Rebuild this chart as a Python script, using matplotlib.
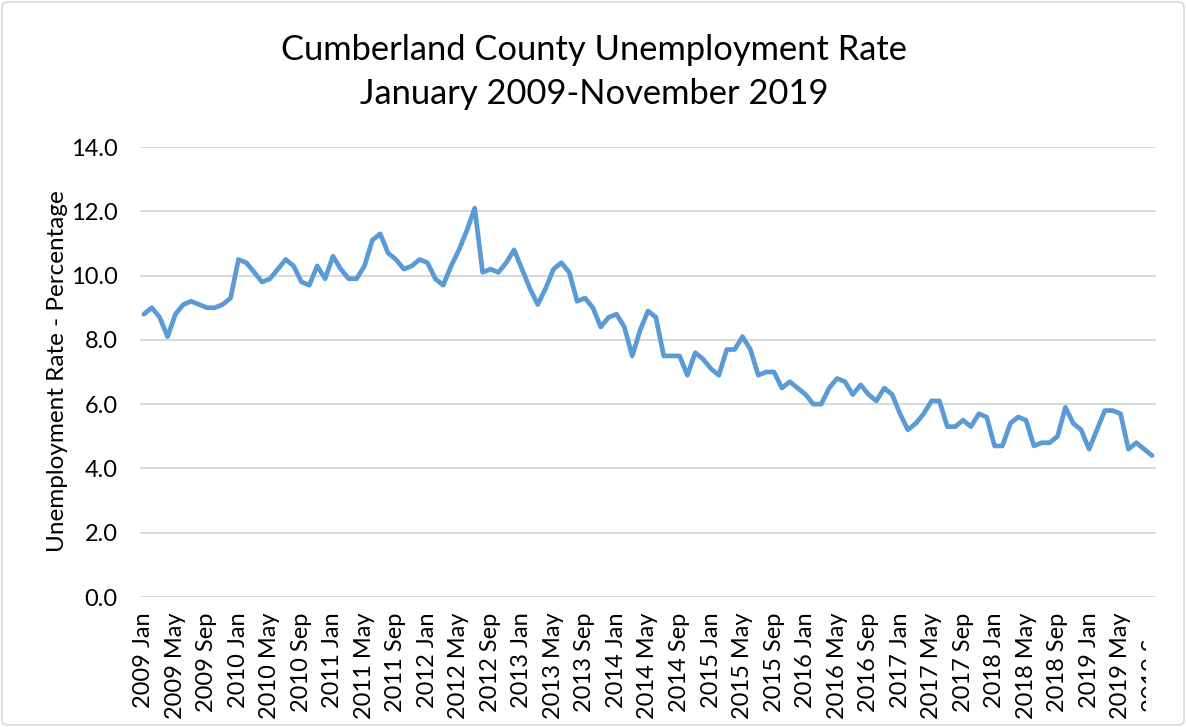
import matplotlib
matplotlib.use("Agg")
import matplotlib.pyplot as plt
from matplotlib.patches import FancyBboxPatch
from matplotlib.transforms import Bbox, IdentityTransform, TransformedBbox

plt.rcParams['font.family'] = ['Lato', 'DejaVu Sans']

title_line1 = "Cumberland County Unemployment Rate"
title_line2 = "January 2009-November 2019"
y_label = "Unemployment Rate - Percentage"
month_names = ["Jan", "Feb", "Mar", "Apr", "May", "Jun",
               "Jul", "Aug", "Sep", "Oct", "Nov", "Dec"]
start_year = 2009
rates = [
    8.8, 9.0, 8.7, 8.1, 8.8, 9.1, 9.2, 9.1, 9.0, 9.0, 9.1, 9.3,          # 2009
    10.5, 10.4, 10.1, 9.8, 9.9, 10.2, 10.5, 10.3, 9.8, 9.7, 10.3, 9.9,   # 2010
    10.6, 10.2, 9.9, 9.9, 10.3, 11.1, 11.3, 10.7, 10.5, 10.2, 10.3, 10.5,  # 2011
    10.4, 9.9, 9.7, 10.3, 10.8, 11.4, 12.1, 10.1, 10.2, 10.1, 10.4, 10.8,  # 2012
    10.2, 9.6, 9.1, 9.6, 10.2, 10.4, 10.1, 9.2, 9.3, 9.0, 8.4, 8.7,      # 2013
    8.8, 8.4, 7.5, 8.3, 8.9, 8.7, 7.5, 7.5, 7.5, 6.9, 7.6, 7.4,          # 2014
    7.1, 6.9, 7.7, 7.7, 8.1, 7.7, 6.9, 7.0, 7.0, 6.5, 6.7, 6.5,          # 2015
    6.3, 6.0, 6.0, 6.5, 6.8, 6.7, 6.3, 6.6, 6.3, 6.1, 6.5, 6.3,          # 2016
    5.7, 5.2, 5.4, 5.7, 6.1, 6.1, 5.3, 5.3, 5.5, 5.3, 5.7, 5.6,          # 2017
    4.7, 4.7, 5.4, 5.6, 5.5, 4.7, 4.8, 4.8, 5.0, 5.9, 5.4, 5.2,          # 2018
    4.6, 5.2, 5.8, 5.8, 5.7, 4.6, 4.8, 4.6, 4.4,                         # 2019
]
y_ticks = [0, 2, 4, 6, 8, 10, 12, 14]

n = len(rates)
categories = [f"{start_year + i // 12} {month_names[i % 12]}" for i in range(n)]

W, H = 1186, 727
fig = plt.figure(figsize=(W / 100, H / 100), dpi=100)
ax = fig.add_axes([140 / W, 1 - 597 / H, 1016 / W, 450 / H])

ax.plot(range(n), rates, color="#5b9bd5", lw=3.4,
        solid_joinstyle="round", solid_capstyle="round", zorder=3)

ax.set_xlim(-0.5, n - 0.5)
ax.set_ylim(0, 14)
ax.set_yticks(y_ticks)
ax.set_yticklabels([f"{v:.1f}" for v in y_ticks], fontsize=17, color="#000000")
tick_idx = list(range(0, n, 4))
ax.set_xticks(tick_idx)
ax.set_xticklabels([categories[i] for i in tick_idx], rotation=90,
                   fontsize=17, color="#000000")
ax.tick_params(axis="both", length=0)
ax.tick_params(axis="y", pad=16)
ax.tick_params(axis="x", pad=11)
for s in ax.spines.values():
    s.set_visible(False)
ax.yaxis.grid(True, color="#d9d9d9", lw=1.4)
ax.set_axisbelow(True)

# labels are cut at the right edge of the chart, as in the original
clip = TransformedBbox(Bbox([[0, 0], [1146, H]]), IdentityTransform())
for lab in ax.get_xticklabels():
    lab.set_clip_on(True)
    lab.set_clip_box(clip)

fig.text(58 / W, 1 - 371 / H, y_label, rotation=90, ha="center", va="center",
         fontsize=17.5)
fig.text(594 / W, 1 - 60 / H, title_line1, ha="center", va="baseline",
         fontsize=24.8)
fig.text(594 / W, 1 - 104 / H, title_line2, ha="center", va="baseline",
         fontsize=24.8)

border = FancyBboxPatch((2 / W, 2 / H), (W - 4) / W, (H - 4) / H,
                        boxstyle="round,pad=0,rounding_size=0.006",
                        transform=fig.transFigure, fill=False,
                        edgecolor="#d9d9d9", lw=1.2)
fig.patches.append(border)

fig.savefig("out.png", dpi=100, facecolor="white")
